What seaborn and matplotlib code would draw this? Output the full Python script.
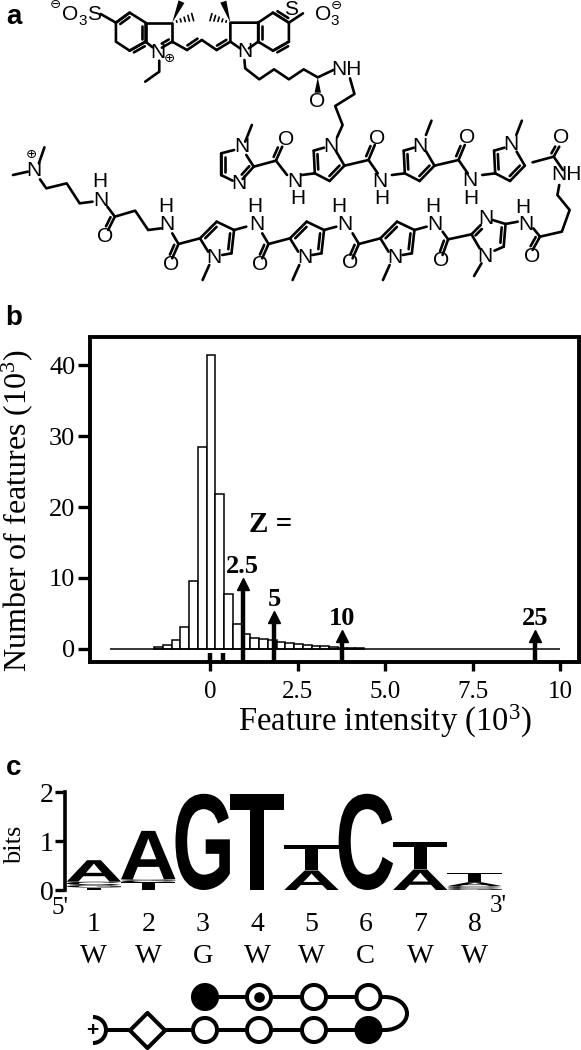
import numpy as np
import matplotlib
import matplotlib.pyplot as plt
import seaborn as sns
from matplotlib.collections import LineCollection
from matplotlib.font_manager import FontProperties
from matplotlib.patches import PathPatch, Polygon, Arc
from matplotlib.textpath import TextPath
from matplotlib.transforms import Affine2D

matplotlib.use('Agg')

# panel b values
bin_start = -1.607
bin_width = 0.25
feature_counts = [0.2, 0.5, 1.2, 3.1, 9.5, 28.5, 41.4, 21.9, 7.8, 3.5, 2.1, 1.5,
                  1.35, 1.2, 1.0, 0.85, 0.75, 0.6, 0.45, 0.35, 0.3, 0.15, 0.15, 0.1]
z_labels = ['2.5', '5', '10', '25']
z_positions = [0.92, 1.82, 3.75, 9.27]
z_tops = [9.7, 5.0, 2.4, 2.4]
small_marks = [0.0, 0.37]
y_ticks = [0, 10, 20, 30, 40]
x_ticks = [0, 2.5, 5.0, 7.5, 10]
x_tick_labels = ['0', '2.5', '5.0', '7.5', '10']

# panel c values
logo_letters = [['T', 'G', 'C', 'A'], ['T', 'C', 'G', 'A'], ['G'], ['T'],
                ['A', 'T'], ['C'], ['A', 'T'], ['G', 'C', 'A', 'T']]
logo_heights = [[0.05, 0.05, 0.07, 0.44], [0.16, 0.03, 0.03, 0.99], [1.97], [1.96],
                [0.4, 0.53], [1.97], [0.42, 0.56], [0.04, 0.04, 0.08, 0.19]]
positions = [1, 2, 3, 4, 5, 6, 7, 8]
degenerate = ['W', 'W', 'G', 'W', 'W', 'C', 'W', 'W']

W, H = 581, 1050
sns.set_style('white')
plt.rcParams['font.family'] = ['Liberation Serif', 'DejaVu Sans']
plt.rcParams['mathtext.default'] = 'regular'
for key in ['text.color', 'axes.labelcolor', 'xtick.color', 'ytick.color']:
    plt.rcParams[key] = 'black'
fig = plt.figure(figsize=(W / 100, H / 100), dpi=100)


def box(left, top, right, bottom):
    return [left / W, 1 - bottom / H, (right - left) / W, (bottom - top) / H]


# ---- panel b: histogram
ax = fig.add_axes(box(90, 337.5, 578.5, 662))
edges = [bin_start + i * bin_width for i in range(len(feature_counts) + 1)]
centers = [e + bin_width / 2 for e in edges[:-1]]
sns.histplot(x=centers, weights=feature_counts, bins=edges, color='white',
             edgecolor='black', linewidth=1.1, alpha=1, ax=ax)
ax.hlines(0, -2.88, 9.98, color='black', lw=1.1, zorder=3)
ax.set_xlim(-3.44, 10.52)
ax.set_ylim(-1.85, 43.9)
ax.set_xticks(x_ticks)
ax.set_xticklabels(x_tick_labels, fontsize=18)
ax.set_yticks(y_ticks)
ax.tick_params(axis='y', labelsize=19, length=8.5, width=2.4, left=True, pad=2)
ax.tick_params(axis='x', length=6.5, width=2.4, bottom=True, pad=7)
for sp in ax.spines.values():
    sp.set_linewidth(2.8)
    sp.set_color('black')
ax.set_xlabel('Feature intensity (10$^{3}$)', fontsize=23.5, va='center')
ax.set_ylabel('Number of features (10$^{3}$)', fontsize=23, va='center')
ax.xaxis.set_label_coords(0.603, -0.182)
ax.yaxis.set_label_coords(-0.149, 0.468)

for lab, xp, top in zip(z_labels, z_positions, z_tops):
    ax.vlines(xp, -1.85, top - 0.6, color='black', lw=3.2, zorder=4)
    ax.plot([xp], [top - 0.55], marker='^', ms=8.5, color='black', zorder=4)
    ax.text(xp, top + 0.3, lab, ha='center', va='bottom', fontsize=19, fontweight='bold')
ax.vlines(small_marks, -1.85, -0.6, color='black', lw=3.2, zorder=4)
ax.text(1.73, 17.6, 'Z =', ha='center', va='center', fontsize=21, fontweight='bold')

# ---- panel c: logo
ax_c = fig.add_axes(box(65, 792.3, 510, 890))
fp = FontProperties(family='Liberation Sans', weight='bold')


def draw_letter(axis, ch, x, y, w, h):
    tp = TextPath((0, 0), ch, size=1, prop=fp)
    bb = tp.get_extents()
    tr = Affine2D().translate(-bb.x0, -bb.y0).scale(w / bb.width, h / bb.height).translate(x, y)
    axis.add_patch(PathPatch(tr.transform_path(tp), fc='black', ec='none'))


for pos, letters, heights in zip(positions, logo_letters, logo_heights):
    base = 0
    for ch, hh in zip(letters, heights):
        draw_letter(ax_c, ch, pos - 0.5, base, 1, hh)
        base += hh

ax_c.set_xlim(0.469, 8.65)
ax_c.set_ylim(0, 2)
ax_c.patch.set_visible(False)
sns.despine(ax=ax_c, bottom=True)
ax_c.spines['left'].set_linewidth(2.6)
ax_c.spines['left'].set_color('black')
ax_c.set_yticks([0, 1, 2])
ax_c.tick_params(axis='y', labelsize=20, length=7, width=2.4, left=True, pad=1)
ax_c.set_xticks(positions)
ax_c.set_xticklabels(positions, fontsize=20)
ax_c.tick_params(axis='x', length=0, pad=16)
ax_c.set_ylabel('bits', fontsize=19, va='center')
ax_c.yaxis.set_label_coords(-0.112, 0.46)
for pos, lab in zip(positions, degenerate):
    ax_c.text(pos, -0.68, lab, transform=ax_c.get_xaxis_transform(), ha='center',
              va='center', fontsize=20.5)

# ---- overlay in pixel coordinates for panel letters, structure and pairing scheme
ov = fig.add_axes([0, 0, 1, 1])
ov.set_xlim(0, W)
ov.set_ylim(H, 0)
ov.axis('off')
ov.patch.set_visible(False)


def z(p):
    # crop coordinates of the structure to pixels
    return (p[0] / 2.7, p[1] / 3)


def shift(seq, dx, dy=0):
    return [(a + dx, b + dy) for a, b in seq]


for lab, yy in zip(['a', 'b', 'c'], [17, 318, 768]):
    ov.text(14, yy, lab, ha='center', va='center', fontsize=20, fontweight='bold',
            family=['Liberation Sans'])
ov.text(60, 908, "5'", ha='center', va='center', fontsize=18)
ov.text(498, 906, "3'", ha='center', va='center', fontsize=18)

# dye part, single bonds as polylines
bonds = [
    [(272, 42), (313, 68), (313, 125), (350, 152), (393, 125), (393, 68), (350, 38), (313, 68)],
    [(393, 68), (465, 68), (465, 125)],
    [(393, 125), (412, 142)],
    [(465, 125), (505, 150)],
    [(545, 120), (585, 150)],
    [(622, 125), (622, 68), (697, 68), (737, 38), (780, 68), (780, 125), (737, 152), (697, 125), (697, 68)],
    [(697, 125), (672, 145)],
    [(622, 125), (648, 145)],
    [(780, 68), (818, 40)],
    [(430, 182), (430, 215), (392, 245)],
    [(660, 180), (662, 205), (700, 238), (740, 208), (780, 238), (820, 208), (858, 232), (900, 210)],
    [(945, 235), (957, 282), (905, 318), (925, 375), (910, 412)],
    # upper strand
    [(680, 375), (662, 425)],
    [(632, 450), (597, 460), (597, 525), (628, 542)],
    [(665, 465), (685, 500), (745, 482), (775, 525)],
    [(1438, 487), (1495, 470), (1520, 510)],
    [(1510, 555), (1505, 585), (1538, 630), (1517, 695), (1458, 710), (1440, 685)],
    # lower strand
    [(1365, 672), (1398, 665)],
    [(1330, 660), (1365, 672)],
    [(1360, 740), (1335, 752)],
    [(1273, 703), (1295, 745)],
    [(1300, 790), (1280, 828)],
    [(1273, 703), (1210, 718), (1195, 695)],
    [(435, 685), (400, 690), (365, 632), (310, 650), (290, 620)],
    [(250, 605), (215, 610), (180, 550), (125, 565), (108, 538)],
    [(105, 490), (120, 442)],
    [(75, 515), (35, 525)],
]
doubles = [
    ((313, 68), (350, 38), 1), ((350, 152), (393, 125), 1), ((393, 68), (393, 125), 1),
    ((465, 125), (437, 143), 1), ((505, 150), (545, 120), -1), ((585, 150), (622, 125), -1),
    ((697, 68), (697, 125), -1), ((737, 38), (780, 68), -1), ((780, 125), (737, 152), -1),
    ((597, 460), (597, 525), -1), ((685, 500), (655, 537), 1),
    ((745, 482), (762, 440), -1), ((1495, 470), (1510, 440), -1),
    ((1458, 710), (1438, 750), 1), ((310, 650), (292, 690), 1),
    ((1273, 703), (1298, 675), 1), ((1365, 672), (1360, 740), 1), ((1210, 718), (1195, 765), 1),
]
# repeating pyrrole units of the two strands
for dx in [0, 243, 487]:
    bonds += [shift(s, dx) for s in [[(847, 452), (875, 443)], [(908, 455), (930, 497)],
                                     [(890, 543), (850, 520)], [(815, 525), (850, 520)]]]
    doubles += [(shift([(930, 497)], dx)[0], shift([(890, 543)], dx)[0], 1),
                (shift([(850, 520)], dx)[0], shift([(847, 452)], dx)[0], 1)]
    if dx > 0:
        bonds.append(shift([(922, 362), (907, 405)], dx))
    if dx < 487:
        bonds.append(shift([(930, 497), (995, 480), (1020, 520)], dx))
        doubles.append((shift([(995, 480)], dx)[0], shift([(1012, 435)], dx)[0], -1))
for dx in [0, 243, 487]:
    bonds += [shift(s, dx) for s in [[(625, 760), (600, 765)], [(540, 715), (562, 755)],
                                     [(585, 665), (632, 690)], [(565, 795), (547, 840)],
                                     [(665, 680), (632, 690)], [(540, 715), (482, 732), (465, 700)]]]
    doubles += [(shift([(540, 715)], dx)[0], shift([(585, 665)], dx)[0], 1),
                (shift([(632, 690)], dx)[0], shift([(625, 760)], dx)[0], 1),
                (shift([(482, 732)], dx)[0], shift([(465, 775)], dx)[0], 1)]

lines = [[z(p) for p in b] for b in bonds]
for a, b, side in doubles:
    pa, pb = np.array(z(a)), np.array(z(b))
    d = pb - pa
    n = np.array([-d[1], d[0]]) / np.hypot(*d) * 3.6 * side
    lines.append([tuple(pa), tuple(pb)])
    lines.append([tuple(pa + 0.16 * d + n), tuple(pb - 0.16 * d + n)])
ov.add_collection(LineCollection(lines, colors='black', linewidths=1.9, capstyle='round'))

# wedges and hashed bonds of the two gem-dimethyl centres
for base, tip, hash_tip in [((465, 68), (490, 5), (525, 50)), ((622, 68), (603, 5), (565, 50))]:
    b0, t0 = np.array(z(base)), np.array(z(tip))
    d = t0 - b0
    n = np.array([-d[1], d[0]]) / np.hypot(*d)
    ov.add_patch(Polygon([b0, t0 + 3.2 * n, t0 - 3.2 * n], fc='black', ec='none'))
    h0 = np.array(z(hash_tip))
    d = h0 - b0
    n = np.array([-d[1], d[0]]) / np.hypot(*d)
    for f in [0.2, 0.38, 0.56, 0.74, 0.92]:
        c = b0 + f * d
        ov.plot(*zip(c - n * 4 * f, c + n * 4 * f), color='black', lw=1.2)
b0, t0 = np.array(z((858, 232))), np.array(z((858, 278)))
ov.add_patch(Polygon([b0, t0 + (3.2, 0), t0 - (3.2, 0)], fc='black', ec='none'))

atom_labels = [
    ('⊖', 150, 16, 9.5), ('O', 190, 45, 15), ('3', 222, 62, 11), ('S', 253, 42, 15),
    ('N', 425, 158, 15), ('⊕', 458, 177, 9.5), ('N', 660, 155, 15), ('S', 787, 28, 15),
    ('O', 872, 42, 15), ('3', 905, 62, 11), ('⊖', 908, 18, 9.5), ('NH', 935, 208, 15),
    ('O', 855, 305, 15), ('N', 893, 438, 15), ('N', 652, 440, 15), ('N', 645, 550, 15),
    ('O', 772, 418, 15), ('N', 797, 545, 15), ('H', 805, 597, 15),
    ('O', 1018, 415, 15), ('N', 1025, 545, 15), ('H', 1030, 597, 15),
    ('N', 1135, 438, 15), ('O', 1260, 412, 15), ('N', 1268, 540, 15), ('H', 1272, 595, 15),
    ('N', 1380, 435, 15), ('O', 1515, 413, 15), ('NH', 1530, 525, 15),
    ('O', 1438, 770, 15), ('N', 1420, 675, 15), ('H', 1412, 622, 15),
    ('N', 1312, 655, 15), ('N', 1310, 768, 15), ('O', 1190, 782, 15), ('N', 1175, 675, 15),
    ('H', 1168, 620, 15), ('N', 1065, 772, 15), ('O', 945, 787, 15), ('N', 930, 675, 15),
    ('H', 915, 620, 15), ('N', 822, 772, 15), ('O', 703, 793, 15), ('N', 693, 675, 15),
    ('H', 687, 620, 15), ('N', 578, 772, 15), ('O', 462, 793, 15), ('N', 450, 675, 15),
    ('H', 447, 620, 15), ('O', 283, 710, 15), ('N', 272, 600, 15), ('H', 270, 545, 15),
    ('N', 92, 510, 15), ('⊕', 85, 465, 9.5),
]
for txt, xx, yy, fs in atom_labels:
    px, py = z((xx, yy))
    ov.text(px, py, txt, ha='center', va='center', fontsize=fs,
            family=['Liberation Sans', 'DejaVu Sans'])

# pairing scheme
upper_y, lower_y = 997, 1030
ring_x = [205, 259, 314, 368.5]
upper_fill = ['black', 'white', 'white', 'white']
lower_fill = ['white', 'white', 'white', 'black']
ov.plot([205, 385], [upper_y, upper_y], color='black', lw=2.9, zorder=2)
ov.plot([107, 385], [lower_y, lower_y], color='black', lw=2.9, zorder=2)
ov.add_patch(Arc((385, (upper_y + lower_y) / 2), 44, lower_y - upper_y, theta1=-90, theta2=90,
                 color='black', lw=2.9, zorder=2))
ov.scatter(ring_x, [upper_y] * 4, s=300, c=upper_fill, edgecolors='black', linewidths=2.9, zorder=3)
ov.scatter(ring_x, [lower_y] * 4, s=300, c=lower_fill, edgecolors='black', linewidths=2.9, zorder=3)
ov.scatter([ring_x[1]], [upper_y], s=44, c='black', zorder=4)
ov.scatter([146.7], [lower_y], s=320, marker='D', c='white', edgecolors='black', linewidths=2.9, zorder=3)
ov.add_patch(Arc((93, lower_y), 26, 26, theta1=-90, theta2=90, color='black', lw=2.9, zorder=3))
ov.text(92.7, lower_y, '+', ha='center', va='center', fontsize=15, fontweight='bold',
        family=['Liberation Sans'])

fig.savefig('out.png', dpi=100)
